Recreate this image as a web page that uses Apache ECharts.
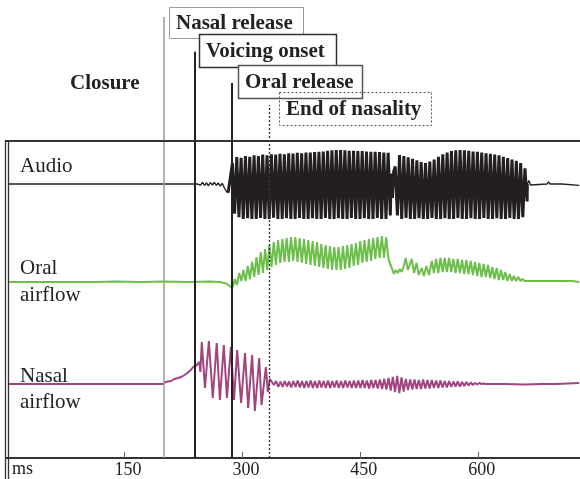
<!DOCTYPE html>
<html><head><meta charset="utf-8">
<script src="https://cdn.jsdelivr.net/npm/echarts@6/dist/echarts.min.js"></script>
<style>html,body{margin:0;padding:0;background:#fff}#c{width:580px;height:479px}</style>
</head><body><div id="c"></div>
<script>
// ---------- DATA ----------
const tickValues = [150, 300, 450, 600];
const eventNames = ['Nasal release', 'Voicing onset', 'Oral release', 'End of nasality'];
const eventTimes = [200, 240, 287, 335];   // ms
const panelLabels = [['Audio'], ['Oral', 'airflow'], ['Nasal', 'airflow']];

// Audio (relative amplitude)
const audioLead = [[2.5, 0], [150, 0], [243, 0]];
const audioOnset = [0.04, -0.03, 0.05, -0.04, 0.03, -0.05, 0.04, -0.03, 0.05, -0.04, 0.03, -0.06, 0.02, -0.1, -0.2, -0.25]; // from 245 ms, 2.5 ms
const audioVoicedA = [ // from 288 ms, 2.75 ms
  0.6, -0.85, 0.77, -0.95, 0.75, -1, 0.8, -0.98, 0.78, -1, 0.82, -1, 0.8, -0.97, 0.84, -1,
  0.82, -1, 0.85, -0.96, 0.84, -1, 0.86, -1, 0.85, -0.98, 0.88, -1, 0.87, -1, 0.89, -0.97,
  0.88, -1, 0.9, -1, 0.9, -0.98, 0.91, -1, 0.92, -1, 0.93, -0.97, 0.95, -1, 0.96, -1,
  0.97, -0.98, 0.97, -1, 0.96, -1, 0.95, -0.97, 0.95, -1, 0.94, -1, 0.94, -0.98, 0.93, -1,
  0.92, -1, 0.92, -0.97, 0.91, -1, 0.9, -1, 0.89, -0.9];
const audioGap = [[490, 0.3], [491.5, -0.4], [493, 0.35]];
const audioVoicedB = [ // from 495 ms, 2.75 ms
  0.5, -0.9, 0.83, -1, 0.8, -0.97, 0.76, -1, 0.72, -1, 0.68, -0.98, 0.63, -1, 0.6, -1,
  0.64, -0.97, 0.7, -1, 0.78, -1, 0.85, -0.98, 0.9, -1, 0.94, -1, 0.96, -0.97, 0.97, -1,
  0.96, -1, 0.95, -0.98, 0.93, -1, 0.92, -1, 0.9, -0.97, 0.88, -1, 0.86, -1, 0.84, -0.98,
  0.82, -1, 0.78, -1, 0.74, -0.97, 0.7, -1, 0.66, -1, 0.6, -0.95, 0.45, -0.5];
const audioTail = [[663, 0], [665, 0.1], [667, -0.03], [669, 0], [688, 0], [690, 0.06], [692, 0], [707, 0], [708, -0.04], [729, -0.04]];

// Oral airflow (relative units)
const oralLead = [[2.5, 0], [20, 0], [22, 0.02], [24, 0], [45, 0], [47, 0.02], [49, 0], [80, 0], [82, 0.02], [84, 0],
  [110, 0], [112, 0.02], [114, 0], [140, 0.01], [170, 0], [172, 0.02], [174, 0], [200, 0.01], [230, 0], [232, 0.02],
  [234, 0], [260, 0.01], [272, 0], [280, -0.03], [286, -0.1], [289, -0.08]];
const oralVoicedA = [ // from 291 ms, 2.75 ms
  0.06, -0.06, 0.18, 0.02, 0.24, 0.02, 0.32, 0.06, 0.4, 0.1, 0.5, 0.14, 0.6, 0.18, 0.66, 0.24,
  0.74, 0.3, 0.8, 0.34, 0.84, 0.38, 0.86, 0.4, 0.88, 0.4, 0.9, 0.42, 0.9, 0.4, 0.88, 0.38,
  0.86, 0.36, 0.84, 0.34, 0.82, 0.32, 0.8, 0.3, 0.76, 0.28, 0.74, 0.26, 0.72, 0.24, 0.7, 0.24,
  0.7, 0.24, 0.72, 0.26, 0.74, 0.28, 0.76, 0.32, 0.78, 0.34, 0.82, 0.38, 0.84, 0.4, 0.86, 0.42,
  0.88, 0.46, 0.9, 0.48, 0.92, 0.48, 0.9, 0.48];
const oralMid = [[488, 0.38], [490.7, 0.28], [493.2, 0.16], [495.7, 0.24], [498.3, 0.18], [500.8, 0.26], [503.3, 0.2],
  [505.9, 0.32], [508.4, 0.48], [511, 0.24], [513.5, 0.34], [516, 0.46], [519, 0.18], [522, 0.38], [525, 0.14],
  [528.5, 0.28], [531.5, 0.12], [534.6, 0.32], [538, 0.14]];
const oralVoicedB = [ // from 541.5 ms, 2.75 ms
  0.42, 0.18, 0.46, 0.18, 0.48, 0.2, 0.48, 0.2, 0.48, 0.2, 0.46, 0.18, 0.46, 0.18, 0.44, 0.16,
  0.44, 0.16, 0.42, 0.14, 0.4, 0.12, 0.38, 0.1, 0.36, 0.1, 0.34, 0.08, 0.3, 0.06, 0.28, 0.04,
  0.24, 0.04, 0.2, 0.02, 0.16, 0.02, 0.12, 0.02, 0.1, 0.02, 0.06, 0.02];
const oralTail = [[665, 0.02], [684, 0.02], [686, 0.04], [688, 0.02], [720, 0.02], [721, 0], [729, 0]];

// Nasal airflow (relative units)
const nasalLead = [[2.5, 0], [30, 0], [32, 0.02], [34, 0], [60, 0], [62, -0.02], [64, 0], [95, 0], [97, 0.02], [99, 0],
  [130, 0], [132, 0.02], [134, 0], [165, 0], [167, 0.02], [169, 0], [196, 0], [200, 0]];
const nasalRise = [[203, 0.04], [206, 0.05], [208.5, 0.08], [210, 0.06], [212, 0.06], [214, 0.1], [216, 0.12], [219, 0.12],
  [221, 0.14], [224, 0.15], [226, 0.18], [229, 0.2], [231, 0.22], [235, 0.28], [238, 0.34], [241.5, 0.36], [244, 0.4],
  [246, 0.44], [247.2, 0.24]];
const nasalBurst = [[249, 0.84], [253, -0.08], [258, 0.86], [263, -0.28], [268, 0.82], [272, -0.32], [277, 0.78], [281, -0.28],
  [286, 0.74], [290, -0.32], [294, 0.68], [299, -0.38], [304, 0.62], [308, -0.48], [313, 0.58], [316.5, -0.54],
  [322, 0.52], [325, -0.42], [330.5, 0.34], [333, -0.16], [335.6, 0.1]];
const nasalRipple = [ // from 338 ms, 2.75 ms
  0.12, -0.02, 0.06, -0.06, 0.05, -0.06, 0.06, -0.05, 0.05, -0.07, 0.06, -0.06, 0.07, -0.07, 0.06, -0.08,
  0.06, -0.07, 0.07, -0.08, 0.06, -0.08, 0.07, -0.07, 0.06, -0.08, 0.07, -0.08, 0.06, -0.07, 0.07, -0.08,
  0.06, -0.08, 0.07, -0.07, 0.06, -0.08, 0.07, -0.08, 0.07, -0.08, 0.08, -0.08, 0.07, -0.09, 0.08, -0.08,
  0.08, -0.09, 0.09, -0.1, 0.1, -0.11, 0.12, -0.13, 0.14, -0.16, 0.16, -0.18, 0.13, -0.15, 0.1, -0.12,
  0.09, -0.11, 0.09, -0.1, 0.08, -0.1, 0.09, -0.09, 0.08, -0.09, 0.08, -0.08, 0.07, -0.08, 0.07, -0.07,
  0.06, -0.07, 0.06, -0.06, 0.05, -0.05, 0.05, -0.05, 0.04, -0.04, 0.04, -0.03, 0.03, -0.02, 0.02, -0.01,
  0.02, 0, 0.01, 0];
const nasalTail = [[615, 0], [630, 0], [632, 0.02], [634, 0], [660, -0.01], [680, 0], [682, 0.02], [684, 0], [700, 0], [702, 0.02], [729, 0.02]];

// ---------- BUILD ----------
function seq(start, step, vals) { return vals.map((v, i) => [start + i * step, v]); }
const audioQuiet = [].concat(audioLead, seq(245, 2.5, audioOnset));
const audioVoiced = [].concat([audioQuiet[audioQuiet.length - 1]], seq(288, 2.75, audioVoicedA), audioGap, seq(495, 2.75, audioVoicedB), [audioTail[0]]);
const oralData = [].concat(oralLead, seq(291, 2.75, oralVoicedA), oralMid, seq(541.5, 2.75, oralVoicedB), oralTail);
const nasalData = [].concat(nasalLead, nasalRise, nasalBurst, seq(338, 2.75, nasalRipple), nasalTail);

const FONT = '"Liberation Serif", "Times New Roman", serif';
const X_MIN = 0, X_MAX = 730;

// styles / layout (not data)
const eventLineStyles = [
  { color: '#9a9a9a', width: 1.5, type: 'solid' },
  { color: '#222', width: 2, type: 'solid' },
  { color: '#222', width: 2, type: 'solid' },
  { color: '#333', width: 1.3, type: [2, 2] }
];
const eventLineTop = [0.963, 0.887, 0.819, 0.771]; // fraction of overlay height
const boxLayout = [
  { dx: 6, top: 7, w: 134, h: 31, stroke: '#9a9a9a', lw: 1, dash: null, fill: '#fff' },
  { dx: 4, top: 34, w: 137, h: 33, stroke: '#333', lw: 1.5, dash: null, fill: '#fff' },
  { dx: 6, top: 65, w: 124, h: 33, stroke: '#555', lw: 1.5, dash: null, fill: '#fff' },
  { dx: 10, top: 92, w: 152, h: 33, stroke: '#555', lw: 1, dash: [2, 2], fill: null }
];

const chart = echarts.init(document.getElementById('c'), null, { renderer: 'canvas' });

const hiddenX = i => ({ type: 'value', gridIndex: i, min: X_MIN, max: X_MAX, show: false });
const hiddenY = (i, mn, mx) => ({ type: 'value', gridIndex: i, min: mn, max: mx, show: false });
const audioLine = (data, width) => ({ type: 'line', xAxisIndex: 0, yAxisIndex: 0, data: data, showSymbol: false, symbol: 'none',
  lineStyle: { color: '#231f20', width: width, join: 'bevel' }, silent: true });

const option = {
  animation: false,
  backgroundColor: '#fff',
  grid: [
    { left: 6, right: 0, top: 149, height: 70 },
    { left: 6, right: 0, top: 232, height: 100 },
    { left: 6, right: 0, top: 334, height: 100 },
    { left: 6, right: 0, top: 0, bottom: 20 }
  ],
  xAxis: [hiddenX(0), hiddenX(1), hiddenX(2), {
    type: 'value', gridIndex: 3, min: X_MIN, max: X_MAX, interval: 150,
    axisLine: { show: true, lineStyle: { color: '#333', width: 2 } },
    axisTick: { show: true, inside: true, length: 6, customValues: tickValues, lineStyle: { color: '#666', width: 1 } },
    axisLabel: { show: true, customValues: tickValues, fontFamily: FONT, fontSize: 18, color: '#222', margin: 3, padding: [0, 0, 0, 8] },
    splitLine: { show: false }
  }],
  yAxis: [hiddenY(0, -1, 1), hiddenY(1, -1, 1), hiddenY(2, -1, 1), hiddenY(3, 0, 1)],
  series: [
    {
      type: 'scatter', xAxisIndex: 3, yAxisIndex: 3, symbolSize: 0, silent: true,
      data: eventTimes.map(t => [t, 0]),
      markLine: {
        silent: true, symbol: ['none', 'none'], label: { show: false },
        data: eventTimes.map((t, i) => [
          { coord: [t, 0], lineStyle: eventLineStyles[i] },
          { coord: [t, eventLineTop[i]] }
        ])
      }
    },
    audioLine(audioQuiet, 1.4),
    audioLine(audioVoiced, 3),
    audioLine(audioTail, 1.4),
    { type: 'line', xAxisIndex: 1, yAxisIndex: 1, data: oralData, showSymbol: false, symbol: 'none',
      lineStyle: { color: '#6cbf4a', width: 2 }, silent: true },
    { type: 'line', xAxisIndex: 2, yAxisIndex: 2, data: nasalData, showSymbol: false, symbol: 'none',
      lineStyle: { color: '#a0457f', width: 2 }, silent: true }
  ]
};
chart.setOption(option);

// ---------- annotations ----------
const ex = eventTimes.map(t => chart.convertToPixel({ xAxisIndex: 3 }, t));
const g = [];
// frame
g.push({ type: 'line', shape: { x1: 5, y1: 141, x2: 580, y2: 141 }, style: { stroke: '#333', lineWidth: 2 }, z: 10 });
g.push({ type: 'line', shape: { x1: 5.5, y1: 140, x2: 5.5, y2: 479 }, style: { stroke: '#333', lineWidth: 1.3 }, z: 10 });
g.push({ type: 'line', shape: { x1: 8.5, y1: 141, x2: 8.5, y2: 479 }, style: { stroke: '#333', lineWidth: 1.3 }, z: 10 });
// boxes with labels
eventNames.forEach((name, i) => {
  const b = boxLayout[i];
  const left = Math.round(ex[i] + b.dx);
  g.push({ type: 'rect', shape: { x: left + 0.5, y: b.top + 0.5, width: b.w, height: b.h },
    style: { fill: b.fill || 'none', stroke: b.stroke, lineWidth: b.lw, lineDash: b.dash }, z: 20 + i });
  g.push({ type: 'text', x: left + 7, y: b.top + b.h / 2 + 1,
    style: { text: name, fontFamily: FONT, fontWeight: 'bold', fontSize: 21, fill: '#222', verticalAlign: 'middle', align: 'left' }, z: 20 + i });
});
g.push({ type: 'text', x: 70, y: 84, style: { text: 'Closure', fontFamily: FONT, fontWeight: 'bold', fontSize: 21, fill: '#222', verticalAlign: 'middle' }, z: 20 });
// panel labels
const labelY = [[166], [268, 295], [376, 402]];
panelLabels.forEach((lines, p) => lines.forEach((t, j) => {
  g.push({ type: 'text', x: 20, y: labelY[p][j], style: { text: t, fontFamily: FONT, fontSize: 21, fill: '#222', verticalAlign: 'middle' }, z: 20 });
}));
g.push({ type: 'text', x: 12, y: 469, style: { text: 'ms', fontFamily: FONT, fontSize: 18, fill: '#222', verticalAlign: 'middle' }, z: 20 });
chart.setOption({ graphic: g });
</script>
</body></html>
